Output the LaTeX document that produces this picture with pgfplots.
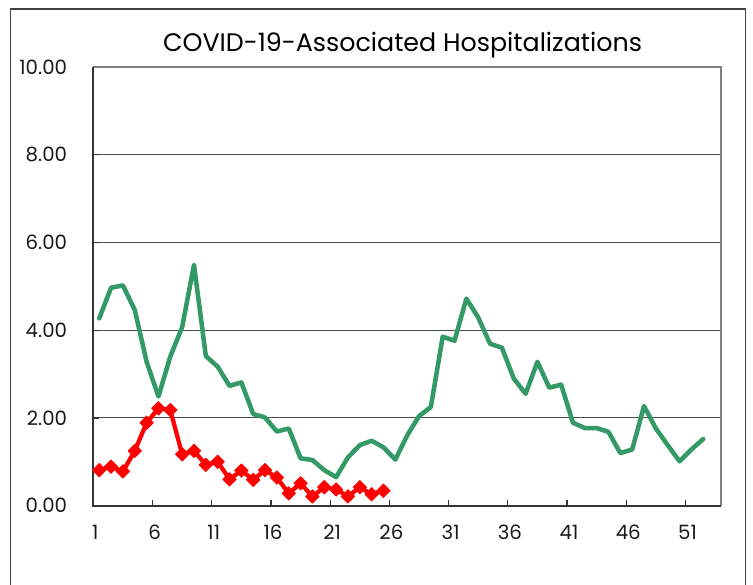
\documentclass[border=0pt]{standalone}
\usepackage{pgfplots}
\pgfplotsset{compat=1.18}
\usepackage{fontspec}
\setmainfont{Poppins}
\definecolor{sgreen}{RGB}{51,153,102}
\definecolor{framegray}{RGB}{128,128,128}
\begin{document}
\begin{tikzpicture}[x=1pt,y=1pt]
\useasboundingbox (0,0) rectangle (564.75,438.75);
\draw[black!75, line width=0.8pt] (8,-5) -- (8,432) -- (559.3,432) -- (559.3,-5);
\node[anchor=base, font=\fontsize{19}{23}\selectfont] at (301.9,399.75) {COVID-19-Associated Hospitalizations};
\begin{axis}[
  at={(70pt,59.5pt)}, anchor=south west,
  scale only axis, width=470.75pt, height=329pt,
  xmin=0.5, xmax=53.5, ymin=0, ymax=10,
  axis line style={draw=none},
  xtick={0.5,5.5,10.5,15.5,20.5,25.5,30.5,35.5,40.5,45.5,50.5},
  xticklabels={1,6,11,16,21,26,31,36,41,46,51},
  ytick={0,2,4,6,8,10},
  ymajorgrids, grid style={black!70, line width=0.8pt},
  tick align=inside, xtick pos=bottom, ytick pos=left,
  major tick length=4pt,
  tick style={black!80, line width=0.9pt},
  /pgf/number format/fixed, /pgf/number format/fixed zerofill,
  /pgf/number format/precision=2, /pgf/number format/assume math mode=true,
  yticklabel style={anchor=east, inner sep=0pt, xshift=-19.5pt},
  xticklabel style={anchor=north, inner sep=0pt, yshift=-14.5pt, xshift=1.5pt},
  ticklabel style={font=\fontsize{14.8}{18}\selectfont, text=black!90},
  clip=false,
]
\addplot[sgreen, line width=3.4pt, line join=round, line cap=round] coordinates {
(1,4.27)(2,4.97)(3,5.02)(4,4.46)(5,3.28)(6,2.49)(7,3.40)(8,4.07)(9,5.49)(10,3.41)
(11,3.17)(12,2.73)(13,2.81)(14,2.09)(15,2.01)(16,1.69)(17,1.76)(18,1.08)(19,1.04)(20,0.81)
(21,0.65)(22,1.10)(23,1.38)(24,1.48)(25,1.33)(26,1.05)(27,1.60)(28,2.04)(29,2.25)(30,3.85)
(31,3.76)(32,4.72)(33,4.29)(34,3.69)(35,3.60)(36,2.90)(37,2.55)(38,3.28)(39,2.69)(40,2.76)
(41,1.89)(42,1.77)(43,1.77)(44,1.68)(45,1.20)(46,1.28)(47,2.27)(48,1.76)(49,1.38)(50,1.01)
(51,1.28)(52,1.52)
};
\addplot[red, line width=3.2pt, line join=round, mark=square*, mark size=3.6pt, mark options={rotate=45, solid, fill=red, draw=red, line width=0.5pt}] coordinates {
(1,0.81)(2,0.89)(3,0.78)(4,1.25)(5,1.89)(6,2.22)(7,2.18)(8,1.17)(9,1.25)(10,0.93)
(11,1.00)(12,0.60)(13,0.80)(14,0.59)(15,0.81)(16,0.64)(17,0.28)(18,0.51)(19,0.21)(20,0.42)
(21,0.37)(22,0.21)(23,0.42)(24,0.26)(25,0.34)
};
\draw[framegray, line width=1.1pt] (rel axis cs:0,1) -- (rel axis cs:1,1) -- (rel axis cs:1,0);
\draw[black!80, line width=1.3pt] (rel axis cs:0,1) -- (rel axis cs:0,0) -- (rel axis cs:1,0);
\end{axis}
\end{tikzpicture}
\end{document}
